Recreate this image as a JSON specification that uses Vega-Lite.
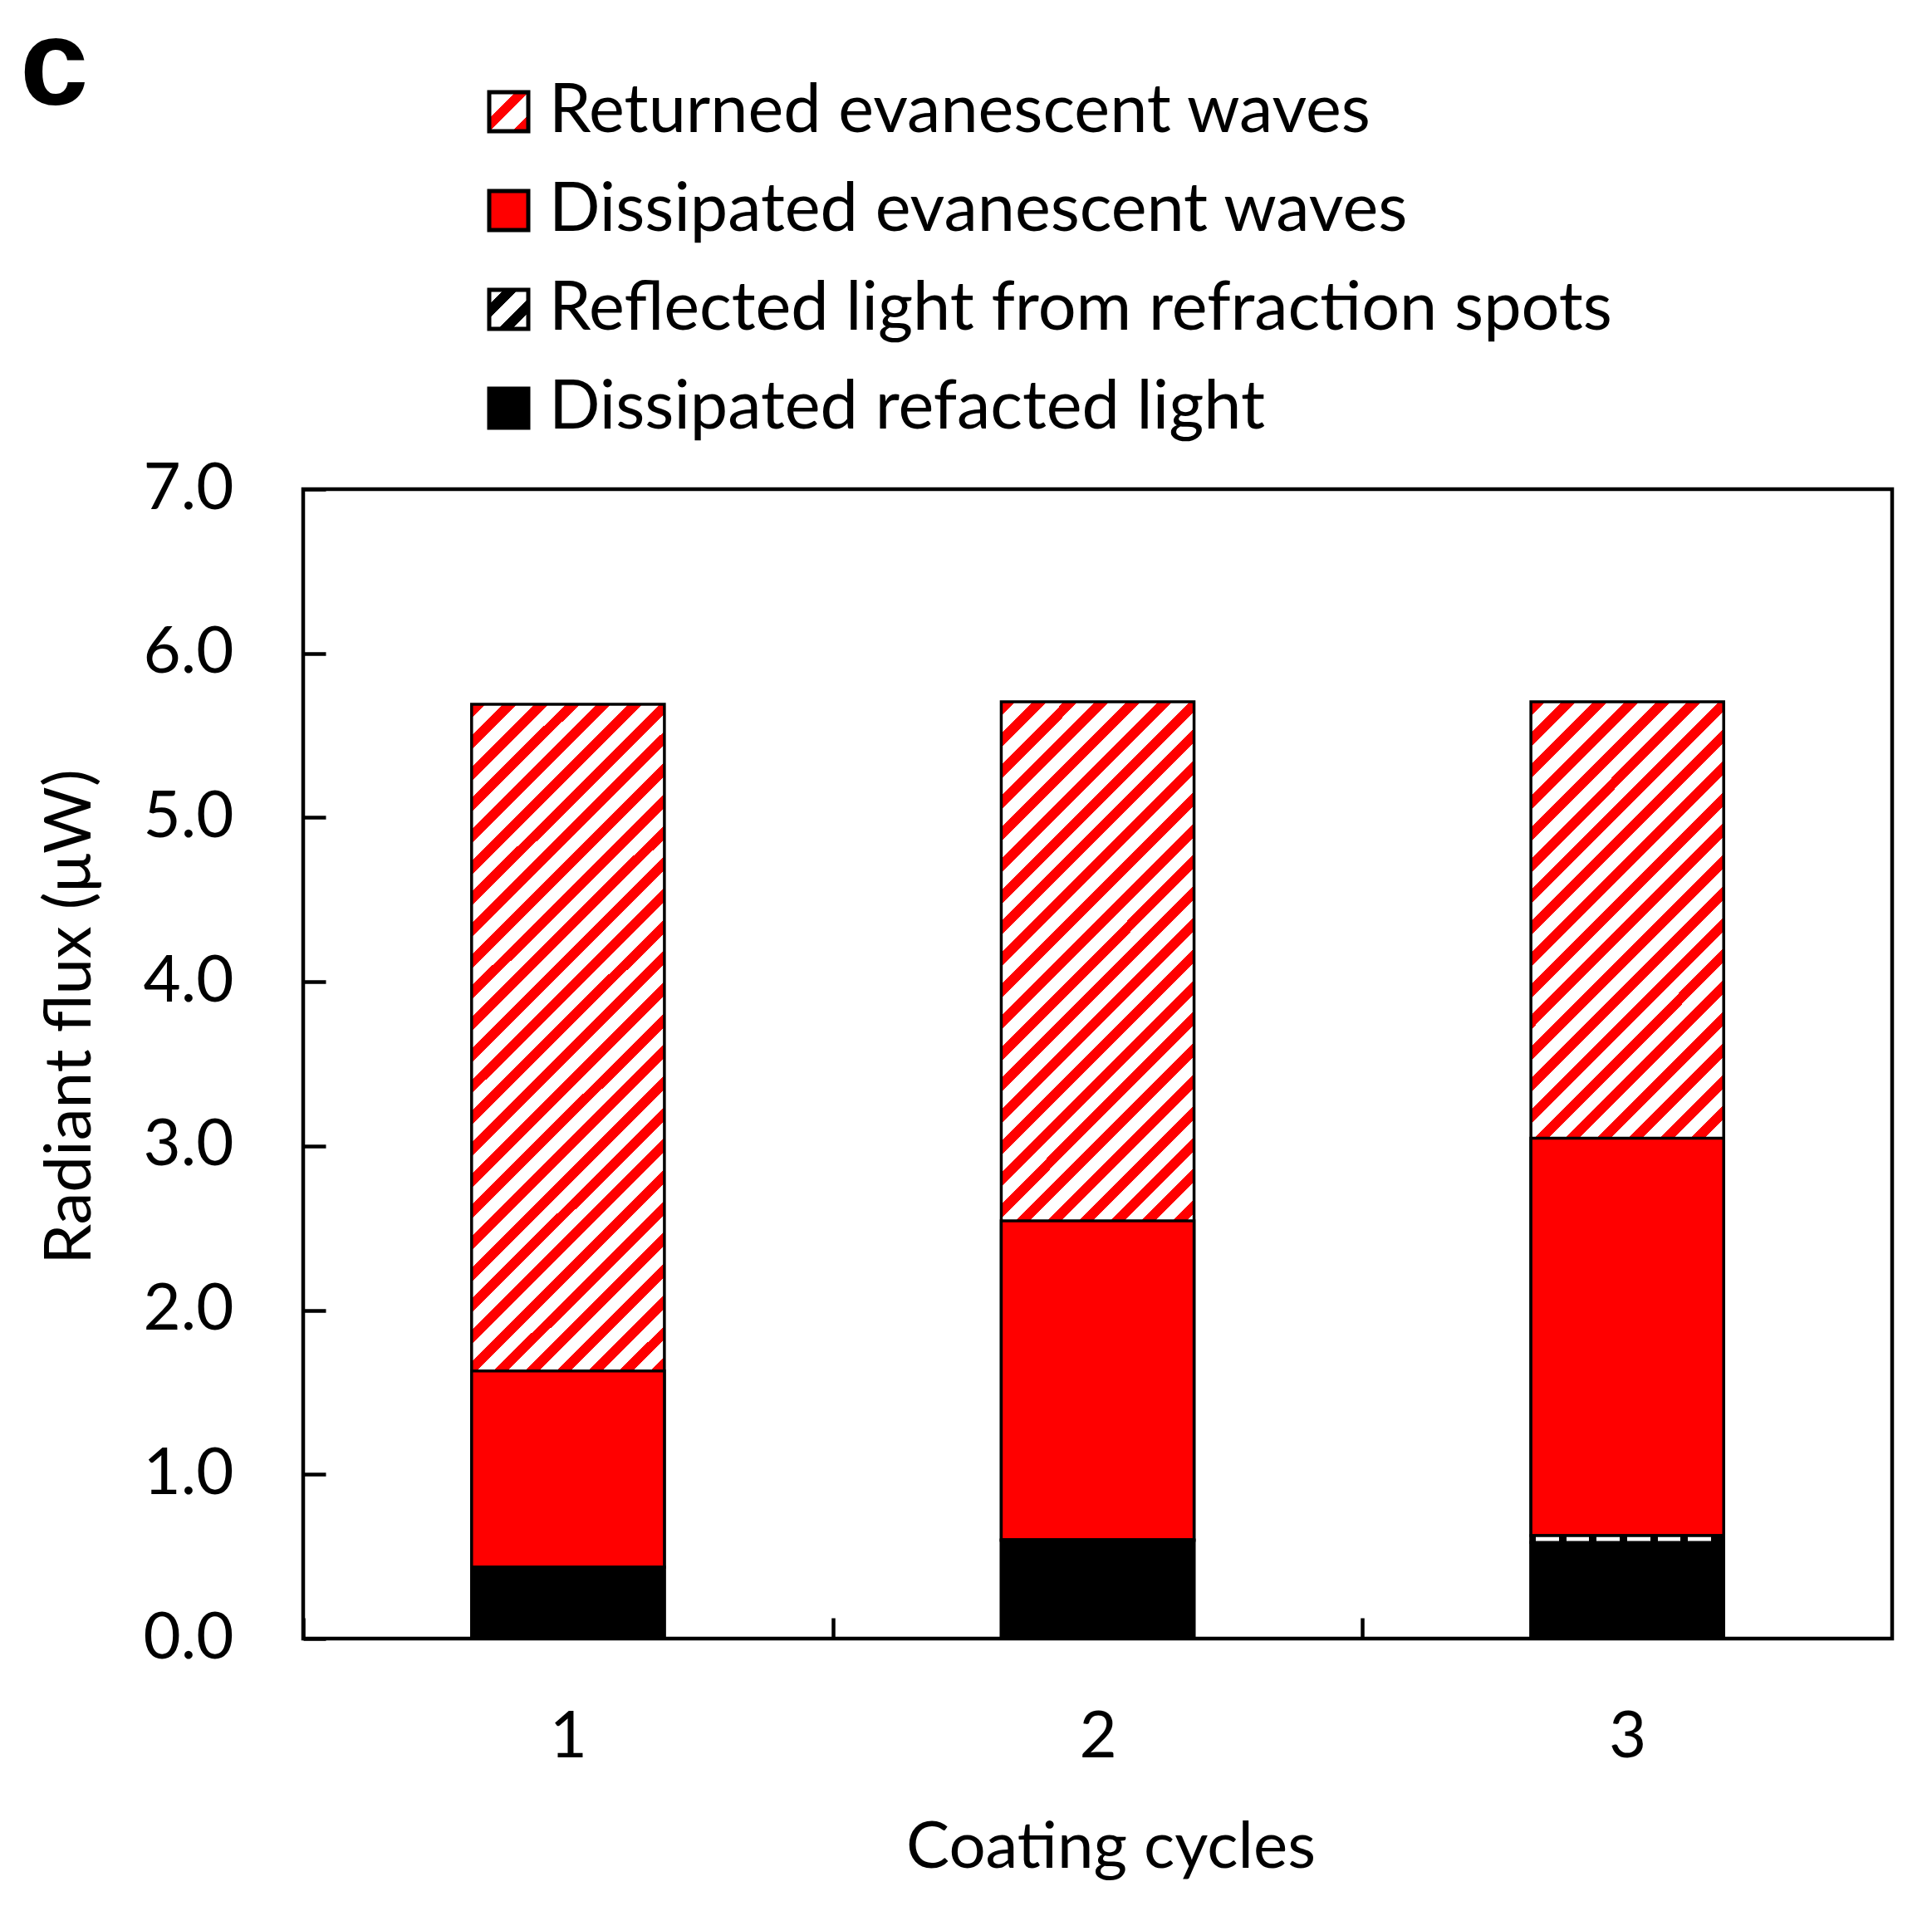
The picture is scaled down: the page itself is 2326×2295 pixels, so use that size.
{
  "$schema": "https://vega.github.io/schema/vega-lite/v6.json",
  "width": 1913,
  "height": 1384,
  "autosize": {"type": "none"},
  "padding": {"left": 365, "top": 589, "right": 48, "bottom": 322},
  "background": "white",
  "config": {
    "view": {"stroke": "black", "strokeWidth": 4.5},
    "font": "Lato"
  },
  "title": {
    "text": "c",
    "anchor": "start",
    "frame": "group",
    "font": "Liberation Sans",
    "fontSize": 148,
    "fontWeight": "bold",
    "color": "black",
    "baseline": "alphabetic",
    "offset": 0,
    "dx": -341,
    "dy": 180
  },
  "data": {
    "values": [
      {"cycle": 1, "component": "Dissipated refacted light", "value": 0.435},
      {"cycle": 1, "component": "Reflected light from refraction spots", "value": 0},
      {"cycle": 1, "component": "Dissipated evanescent waves", "value": 1.195},
      {"cycle": 1, "component": "Returned evanescent waves", "value": 4.06},
      {"cycle": 2, "component": "Dissipated refacted light", "value": 0.597},
      {"cycle": 2, "component": "Reflected light from refraction spots", "value": 0.005},
      {"cycle": 2, "component": "Dissipated evanescent waves", "value": 1.942},
      {"cycle": 2, "component": "Returned evanescent waves", "value": 3.161},
      {"cycle": 3, "component": "Dissipated refacted light", "value": 0.585},
      {"cycle": 3, "component": "Reflected light from refraction spots", "value": 0.042},
      {"cycle": 3, "component": "Dissipated evanescent waves", "value": 2.42},
      {"cycle": 3, "component": "Returned evanescent waves", "value": 2.658}
    ]
  },
  "transform": [
    {"stack": "value", "groupby": ["cycle"], "as": ["y0", "y1"]}
  ],
  "encoding": {
    "x": {
      "field": "cycle",
      "type": "ordinal",
      "scale": {"type": "band", "paddingInner": 0, "paddingOuter": 0},
      "axis": {
        "title": "Coating cycles",
        "titleFont": "Lato",
        "titleFontSize": 78,
        "titleFontWeight": "normal",
        "titleColor": "black",
        "titleX": 972,
        "titleY": 275,
        "titleAlign": "center",
        "titleBaseline": "alphabetic",
        "labelFont": "Lato",
        "labelFontSize": 78,
        "labelColor": "black",
        "labelAngle": 0,
        "labelPadding": 105,
        "tickSize": -25,
        "tickWidth": 4.5,
        "tickColor": "black",
        "tickOffset": -318.83,
        "labelOffset": 318.83,
        "domain": false,
        "grid": false
      }
    },
    "y": {
      "field": "y1",
      "type": "quantitative",
      "scale": {"domain": [0, 7], "nice": false},
      "axis": {
        "title": "Radiant flux (μW)",
        "titleFont": "Lato",
        "titleFontSize": 78,
        "titleFontWeight": "normal",
        "titleColor": "black",
        "titleAngle": -90,
        "titleX": -257,
        "titleY": 635,
        "titleAlign": "center",
        "titleBaseline": "alphabetic",
        "values": [0, 1, 2, 3, 4, 5, 6, 7],
        "format": ".1f",
        "labelFont": "Lato",
        "labelFontSize": 78,
        "labelColor": "black",
        "labelPadding": 111,
        "tickSize": -27,
        "tickWidth": 4.5,
        "tickColor": "black",
        "domain": false,
        "grid": false
      }
    }
  },
  "layer": [
    {
      "transform": [{"filter": "datum.component === 'Returned evanescent waves'"}],
      "mark": {
        "type": "bar",
        "width": {"band": 0.364},
        "stroke": "black",
        "strokeWidth": 3.5,
        "fill": {
          "gradient": "linear",
          "x1": 0, "y1": 0, "x2": 0.23825, "y2": 1.15688,
          "stops": [
            {"offset": 0, "color": "red"}, {"offset": 0.0125, "color": "red"}, {"offset": 0.0125, "color": "white"}, {"offset": 0.027778, "color": "white"},
            {"offset": 0.027778, "color": "red"}, {"offset": 0.040278, "color": "red"}, {"offset": 0.040278, "color": "white"}, {"offset": 0.055556, "color": "white"},
            {"offset": 0.055556, "color": "red"}, {"offset": 0.068056, "color": "red"}, {"offset": 0.068056, "color": "white"}, {"offset": 0.083333, "color": "white"},
            {"offset": 0.083333, "color": "red"}, {"offset": 0.095833, "color": "red"}, {"offset": 0.095833, "color": "white"}, {"offset": 0.111111, "color": "white"},
            {"offset": 0.111111, "color": "red"}, {"offset": 0.123611, "color": "red"}, {"offset": 0.123611, "color": "white"}, {"offset": 0.138889, "color": "white"},
            {"offset": 0.138889, "color": "red"}, {"offset": 0.151389, "color": "red"}, {"offset": 0.151389, "color": "white"}, {"offset": 0.166667, "color": "white"},
            {"offset": 0.166667, "color": "red"}, {"offset": 0.179167, "color": "red"}, {"offset": 0.179167, "color": "white"}, {"offset": 0.194444, "color": "white"},
            {"offset": 0.194444, "color": "red"}, {"offset": 0.206944, "color": "red"}, {"offset": 0.206944, "color": "white"}, {"offset": 0.222222, "color": "white"},
            {"offset": 0.222222, "color": "red"}, {"offset": 0.234722, "color": "red"}, {"offset": 0.234722, "color": "white"}, {"offset": 0.25, "color": "white"},
            {"offset": 0.25, "color": "red"}, {"offset": 0.2625, "color": "red"}, {"offset": 0.2625, "color": "white"}, {"offset": 0.277778, "color": "white"},
            {"offset": 0.277778, "color": "red"}, {"offset": 0.290278, "color": "red"}, {"offset": 0.290278, "color": "white"}, {"offset": 0.305556, "color": "white"},
            {"offset": 0.305556, "color": "red"}, {"offset": 0.318056, "color": "red"}, {"offset": 0.318056, "color": "white"}, {"offset": 0.333333, "color": "white"},
            {"offset": 0.333333, "color": "red"}, {"offset": 0.345833, "color": "red"}, {"offset": 0.345833, "color": "white"}, {"offset": 0.361111, "color": "white"},
            {"offset": 0.361111, "color": "red"}, {"offset": 0.373611, "color": "red"}, {"offset": 0.373611, "color": "white"}, {"offset": 0.388889, "color": "white"},
            {"offset": 0.388889, "color": "red"}, {"offset": 0.401389, "color": "red"}, {"offset": 0.401389, "color": "white"}, {"offset": 0.416667, "color": "white"},
            {"offset": 0.416667, "color": "red"}, {"offset": 0.429167, "color": "red"}, {"offset": 0.429167, "color": "white"}, {"offset": 0.444444, "color": "white"},
            {"offset": 0.444444, "color": "red"}, {"offset": 0.456944, "color": "red"}, {"offset": 0.456944, "color": "white"}, {"offset": 0.472222, "color": "white"},
            {"offset": 0.472222, "color": "red"}, {"offset": 0.484722, "color": "red"}, {"offset": 0.484722, "color": "white"}, {"offset": 0.5, "color": "white"},
            {"offset": 0.5, "color": "red"}, {"offset": 0.5125, "color": "red"}, {"offset": 0.5125, "color": "white"}, {"offset": 0.527778, "color": "white"},
            {"offset": 0.527778, "color": "red"}, {"offset": 0.540278, "color": "red"}, {"offset": 0.540278, "color": "white"}, {"offset": 0.555556, "color": "white"},
            {"offset": 0.555556, "color": "red"}, {"offset": 0.568056, "color": "red"}, {"offset": 0.568056, "color": "white"}, {"offset": 0.583333, "color": "white"},
            {"offset": 0.583333, "color": "red"}, {"offset": 0.595833, "color": "red"}, {"offset": 0.595833, "color": "white"}, {"offset": 0.611111, "color": "white"},
            {"offset": 0.611111, "color": "red"}, {"offset": 0.623611, "color": "red"}, {"offset": 0.623611, "color": "white"}, {"offset": 0.638889, "color": "white"},
            {"offset": 0.638889, "color": "red"}, {"offset": 0.651389, "color": "red"}, {"offset": 0.651389, "color": "white"}, {"offset": 0.666667, "color": "white"},
            {"offset": 0.666667, "color": "red"}, {"offset": 0.679167, "color": "red"}, {"offset": 0.679167, "color": "white"}, {"offset": 0.694444, "color": "white"},
            {"offset": 0.694444, "color": "red"}, {"offset": 0.706944, "color": "red"}, {"offset": 0.706944, "color": "white"}, {"offset": 0.722222, "color": "white"},
            {"offset": 0.722222, "color": "red"}, {"offset": 0.734722, "color": "red"}, {"offset": 0.734722, "color": "white"}, {"offset": 0.75, "color": "white"},
            {"offset": 0.75, "color": "red"}, {"offset": 0.7625, "color": "red"}, {"offset": 0.7625, "color": "white"}, {"offset": 0.777778, "color": "white"},
            {"offset": 0.777778, "color": "red"}, {"offset": 0.790278, "color": "red"}, {"offset": 0.790278, "color": "white"}, {"offset": 0.805556, "color": "white"},
            {"offset": 0.805556, "color": "red"}, {"offset": 0.818056, "color": "red"}, {"offset": 0.818056, "color": "white"}, {"offset": 0.833333, "color": "white"},
            {"offset": 0.833333, "color": "red"}, {"offset": 0.845833, "color": "red"}, {"offset": 0.845833, "color": "white"}, {"offset": 0.861111, "color": "white"},
            {"offset": 0.861111, "color": "red"}, {"offset": 0.873611, "color": "red"}, {"offset": 0.873611, "color": "white"}, {"offset": 0.888889, "color": "white"},
            {"offset": 0.888889, "color": "red"}, {"offset": 0.901389, "color": "red"}, {"offset": 0.901389, "color": "white"}, {"offset": 0.916667, "color": "white"},
            {"offset": 0.916667, "color": "red"}, {"offset": 0.929167, "color": "red"}, {"offset": 0.929167, "color": "white"}, {"offset": 0.944444, "color": "white"},
            {"offset": 0.944444, "color": "red"}, {"offset": 0.956944, "color": "red"}, {"offset": 0.956944, "color": "white"}, {"offset": 0.972222, "color": "white"},
            {"offset": 0.972222, "color": "red"}, {"offset": 0.984722, "color": "red"}, {"offset": 0.984722, "color": "white"}, {"offset": 1, "color": "white"}
          ]
        }
      },
      "encoding": {
        "y2": {"datum": 0}
      }
    },
    {
      "transform": [{"filter": "datum.component === 'Dissipated evanescent waves' || datum.component === 'Dissipated refacted light'"}],
      "mark": {"type": "bar", "width": {"band": 0.364}, "stroke": "black", "strokeWidth": 3.5},
      "encoding": {
        "y2": {"field": "y0"},
        "fill": {
          "field": "component",
          "type": "nominal",
          "scale": {
            "domain": ["Returned evanescent waves", "Dissipated evanescent waves", "Reflected light from refraction spots", "Dissipated refacted light"],
            "range": [
              {"expr": "{gradient: 'linear', x1: 0, y1: 0, x2: 1, y2: 1, stops: [{offset: 0, color: 'white'}, {offset: 0.33, color: 'white'}, {offset: 0.33, color: 'red'}, {offset: 0.505, color: 'red'}, {offset: 0.505, color: 'white'}, {offset: 0.79, color: 'white'}, {offset: 0.79, color: 'red'}, {offset: 0.965, color: 'red'}, {offset: 0.965, color: 'white'}, {offset: 1, color: 'white'}]}"},
              "#ff0000",
              {"expr": "{gradient: 'linear', x1: 0, y1: 0, x2: 1, y2: 1, stops: [{offset: 0, color: 'white'}, {offset: 0.19, color: 'white'}, {offset: 0.19, color: 'black'}, {offset: 0.37, color: 'black'}, {offset: 0.37, color: 'white'}, {offset: 0.61, color: 'white'}, {offset: 0.61, color: 'black'}, {offset: 0.79, color: 'black'}, {offset: 0.79, color: 'white'}, {offset: 1, color: 'white'}]}"},
              "#000000"
            ]
          },
          "legend": {
            "title": null,
            "orient": "none",
            "legendX": 207,
            "legendY": -495,
            "direction": "vertical",
            "symbolType": "square",
            "symbolSize": 2209,
            "symbolStrokeColor": "black",
            "symbolStrokeWidth": 5,
            "symbolOpacity": 1,
            "labelFont": "Lato",
            "labelFontSize": 81,
            "labelColor": "black",
            "labelOffset": 8,
            "labelLimit": 2000,
            "rowPadding": 37,
            "padding": 0
          }
        }
      }
    },
    {
      "transform": [{"filter": "datum.component === 'Reflected light from refraction spots'"}],
      "mark": {
        "type": "bar",
        "width": {"band": 0.364},
        "stroke": "black",
        "strokeWidth": 3.5,
        "fill": {
          "gradient": "linear",
          "x1": 0, "y1": 0, "x2": 1, "y2": 0,
          "stops": [
            {"offset": 0, "color": "black"}, {"offset": 0.025, "color": "black"}, {"offset": 0.025, "color": "white"}, {"offset": 0.145, "color": "white"},
            {"offset": 0.145, "color": "black"}, {"offset": 0.183, "color": "black"}, {"offset": 0.183, "color": "white"}, {"offset": 0.303, "color": "white"},
            {"offset": 0.303, "color": "black"}, {"offset": 0.341, "color": "black"}, {"offset": 0.341, "color": "white"}, {"offset": 0.461, "color": "white"},
            {"offset": 0.461, "color": "black"}, {"offset": 0.499, "color": "black"}, {"offset": 0.499, "color": "white"}, {"offset": 0.619, "color": "white"},
            {"offset": 0.619, "color": "black"}, {"offset": 0.657, "color": "black"}, {"offset": 0.657, "color": "white"}, {"offset": 0.777, "color": "white"},
            {"offset": 0.777, "color": "black"}, {"offset": 0.815, "color": "black"}, {"offset": 0.815, "color": "white"}, {"offset": 0.935, "color": "white"},
            {"offset": 0.935, "color": "black"}, {"offset": 1, "color": "black"}
          ]
        }
      },
      "encoding": {
        "y2": {"field": "y0"}
      }
    }
  ]
}
